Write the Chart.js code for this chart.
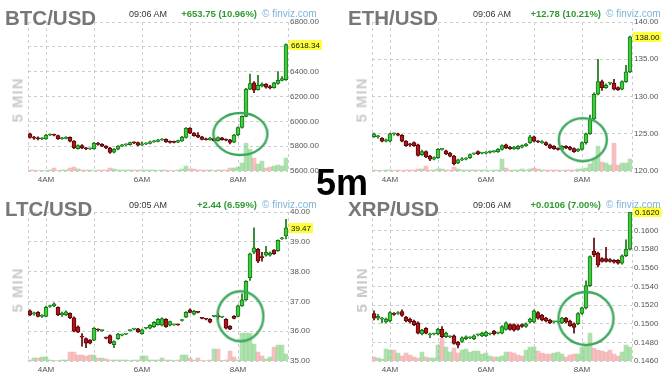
<!DOCTYPE html>
<html>
<head>
<meta charset="utf-8">
<title>Crypto 5 min</title>
<script src="https://cdn.jsdelivr.net/npm/chart.js@4/dist/chart.umd.min.js"></script>
<style>
  html, body { margin: 0; padding: 0; background: #fff; }
  body { width: 669px; height: 389px; position: relative; overflow: hidden; font-family: "Liberation Sans", Arial, sans-serif; }
  .panel { position: absolute; width: 344px; height: 190px; }
  .panel canvas { position: absolute; left: 0; top: 0; }
  .txt { position: absolute; white-space: nowrap; line-height: 1; }
  .name { font-weight: bold; font-size: 20.5px; color: #777; }
  .time { font-size: 9px; color: #333; }
  .chg { font-weight: bold; font-size: 9.5px; color: #2f9a33; }
  .brand { font-size: 10px; color: #7fb3d8; }
  .side { font-weight: bold; font-size: 15px; color: #cacaca; letter-spacing: 1px; transform: translate(-50%, -50%) rotate(-90deg); }
  #tf { position: absolute; left: 316px; top: 165px; font-weight: bold; font-size: 36px; line-height: 1; color: #000; z-index: 5; }
</style>
</head>
<body>
<div id="tf">5m</div>
<script>
// candle times (5 minute bars)
const times = ['3:40','3:45','3:50','3:55',
  '4:00','4:05','4:10','4:15','4:20','4:25','4:30','4:35','4:40','4:45','4:50','4:55',
  '5:00','5:05','5:10','5:15','5:20','5:25','5:30','5:35','5:40','5:45','5:50','5:55',
  '6:00','6:05','6:10','6:15','6:20','6:25','6:30','6:35','6:40','6:45','6:50','6:55',
  '7:00','7:05','7:10','7:15','7:20','7:25','7:30','7:35','7:40','7:45','7:50','7:55',
  '8:00','8:05','8:10','8:15','8:20','8:25','8:30','8:35','8:40','8:45','8:50','8:55',
  '9:00']
const hourTicks = ['4:00','5:00','6:00','7:00','8:00']
const hourLabels = ['4AM','','6AM','','8AM']

// BTC/USD
const btcOpen = [5900,5870,5868,5860,5858,5890,5893,5885,5860,5862,
  5872,5840,5780,5805,5785,5778,5780,5825,5815,5800,
  5785,5752,5775,5800,5810,5812,5828,5828,5810,5818,
  5822,5835,5838,5850,5855,5838,5832,5832,5842,5870,
  5945,5905,5890,5875,5860,5852,5862,5845,5868,5855,
  5852,5832,5890,5950,6040,6260,6310,6255,6285,6300,
  6280,6272,6305,6330,6335]
const btcClose = [5870,5865,5858,5862,5890,5895,5888,5860,5865,5872,
  5840,5785,5805,5785,5778,5780,5825,5815,5800,5785,
  5750,5775,5800,5810,5812,5828,5826,5808,5818,5822,
  5835,5842,5852,5858,5835,5830,5830,5845,5874,5945,
  5905,5885,5872,5855,5852,5866,5845,5870,5852,5848,
  5830,5890,5950,6040,6260,6305,6250,6290,6300,6275,
  6270,6310,6330,6345,6618.34]
const btcHigh = [5905,5880,5875,5870,5895,5900,5898,5890,5872,5878,
  5875,5845,5810,5812,5790,5785,5830,5830,5820,5805,
  5790,5780,5805,5815,5818,5832,5835,5832,5835,5826,
  5840,5848,5856,5862,5860,5842,5840,5850,5880,5950,
  5950,5910,5910,5880,5865,5872,5868,5875,5872,5860,
  5856,5895,5955,6045,6265,6380,6320,6370,6310,6305,
  6290,6315,6400,6360,6625]
const btcLow = [5865,5855,5850,5852,5855,5885,5882,5855,5855,5858,
  5835,5780,5775,5780,5772,5772,5775,5808,5795,5780,
  5742,5745,5770,5795,5805,5808,5820,5802,5805,5812,
  5818,5830,5834,5846,5830,5825,5826,5828,5838,5865,
  5900,5880,5868,5850,5848,5848,5840,5840,5848,5842,
  5818,5828,5885,5945,6035,6255,6230,6250,6278,6268,
  6262,6268,6300,6325,6330]
const btcVolume = [1,1,0.5,0.5,0.5,1,3,0.5,1,1,
  3,4,2,1,1,1,0.5,1,1,1,
  3,2,1,1,1,1,1,1,1,1,
  1,1,0.5,1,1,0.5,0.5,1,2,5,
  2,2,1,1,1,1,0.5,1,1,1,
  3,3,4,8,28,22,13,7,10,3,
  4,5,6,5,13]
const btcTicks = [5600,5800,6000,6200,6400,6600,6800]
const btcCircle = ['8:03', 5898]

// ETH/USD
const ethOpen = [124.6,124.6,124.4,124.0,124.0,125.0,125.0,124.8,124.0,123.6,
  123.8,123.5,122.2,122.6,122.0,121.6,121.8,122.9,122.7,122.4,
  122.0,121.1,121.5,121.6,121.8,122.3,122.6,122.4,122.4,122.5,
  122.6,122.6,122.9,123.5,123.2,123.0,123.0,123.2,123.4,123.8,
  124.6,124.0,123.8,123.8,123.5,123.3,123.0,122.9,123.3,123.2,
  123.0,122.7,122.9,123.8,125.0,127.0,130.3,132.0,131.2,131.8,
  131.8,131.2,131.0,132.0,133.3]
const ethClose = [125.0,124.6,124.0,124.2,125.0,125.0,124.8,124.0,123.4,123.5,
  123.4,122.1,122.6,121.9,121.6,121.8,122.9,122.9,122.3,122.0,
  121.0,121.5,121.6,121.7,122.2,122.3,122.3,122.4,122.5,122.6,
  122.6,122.9,123.4,123.1,123.0,123.2,123.3,123.4,123.6,124.6,
  124.0,123.9,123.9,123.5,123.1,123.0,122.9,123.3,123.1,122.9,
  122.6,122.9,123.8,125.0,127.0,130.3,132.0,131.2,131.5,131.8,
  131.0,130.9,132.0,133.3,138.0]
const ethHigh = [125.1,124.8,124.5,124.3,125.1,125.1,125.1,124.9,124.1,123.7,
  123.9,123.6,122.8,122.7,122.1,121.9,123.0,123.0,122.8,122.5,
  122.1,121.6,121.8,121.8,122.3,122.4,122.7,122.5,122.6,122.7,
  122.7,123.0,123.5,123.6,123.3,123.3,123.4,123.5,123.7,124.8,
  124.7,124.1,124.1,123.9,123.6,123.4,123.1,123.4,123.4,123.3,
  123.1,123.0,123.9,125.1,127.5,130.5,135.0,132.2,131.7,131.9,
  132.3,131.3,132.1,134.2,138.1]
const ethLow = [124.5,124.4,123.9,123.9,123.9,124.8,124.7,123.9,123.3,123.3,
  123.3,122.0,122.1,121.8,121.4,121.5,121.7,122.8,122.2,121.9,
  120.8,121.0,121.4,121.5,121.7,122.2,122.2,122.3,122.3,122.4,
  122.5,122.5,122.8,123.0,122.9,122.9,122.9,123.1,123.3,123.7,
  123.9,123.8,123.7,123.4,123.0,122.9,122.8,122.8,123.0,122.8,
  122.5,122.6,122.8,123.6,124.9,126.9,130.2,130.8,131.1,131.6,
  130.9,130.8,130.9,131.9,133.2]
const ethVolume = [1,0.5,0.5,1,1,0.5,1,0.5,1,1,
  1,2,2,5,1,1,2,2,1,1,
  4,2,1,1,1,1,1,1,1,0.5,
  1,1,12,3,1,1,1,2,1,2,
  3,2,1,1,1,1,1,0.5,1,1,
  1,2,2,3,7,12,25,9,8,6,
  28,6,8,8,12]
const ethTicks = [120,125,130,135,140]
const ethCircle = ['8:01', 124.2]

// LTC/USD
const ltcOpen = [36.68,36.58,36.63,36.50,36.50,36.83,36.85,36.80,36.55,36.55,
  36.60,36.45,36.15,35.82,35.75,35.70,35.70,36.05,36.02,35.78,
  35.85,35.55,35.75,35.87,35.90,36.02,36.07,36.08,35.92,36.10,
  36.10,36.15,36.22,36.20,36.40,36.20,36.21,36.22,36.36,36.47,
  36.72,36.57,36.64,36.44,36.41,36.40,36.50,36.50,36.47,36.40,
  36.17,36.50,36.50,36.85,37.05,37.80,38.65,38.75,38.50,38.55,
  38.55,38.72,38.70,39.10,39.20]
const ltcClose = [36.55,36.60,36.50,36.52,36.80,36.85,36.92,36.55,36.60,36.65,
  36.45,36.00,35.97,35.80,35.60,35.60,36.10,36.04,36.02,35.77,
  35.60,35.65,35.90,35.88,35.91,36.03,36.08,35.98,36.05,36.11,
  36.20,36.30,36.40,36.42,36.15,36.32,36.22,36.21,36.38,36.63,
  36.63,36.67,36.63,36.43,36.40,36.30,36.51,36.49,36.48,36.10,
  36.07,36.43,36.85,37.05,37.67,38.60,38.80,38.35,38.47,38.65,
  38.62,38.60,39.05,39.12,39.47]
const ltcHigh = [36.72,36.64,36.66,36.56,36.84,36.88,36.95,36.82,36.64,36.68,
  36.62,36.48,36.18,35.92,35.78,35.72,36.12,36.08,36.05,35.80,
  35.88,35.68,35.93,35.90,35.93,36.05,36.10,36.10,36.07,36.13,
  36.22,36.32,36.42,36.45,36.42,36.34,36.24,36.24,36.40,36.66,
  36.75,36.70,36.66,36.46,36.43,36.42,36.53,36.60,36.50,36.42,
  36.19,36.52,36.88,37.25,37.70,38.62,39.47,38.78,38.65,38.85,
  38.66,38.74,39.07,39.15,39.75]
const ltcLow = [36.52,36.54,36.48,36.46,36.48,36.80,36.82,36.52,36.50,36.52,
  36.42,35.98,35.95,35.50,35.45,35.57,35.68,36.00,35.99,35.74,
  35.58,35.45,35.72,35.84,35.88,36.00,36.04,35.96,35.90,36.08,
  36.08,36.13,36.20,36.18,36.13,36.18,36.19,36.19,36.34,36.45,
  36.61,36.55,36.61,36.41,36.38,36.28,36.48,36.40,36.45,36.08,
  36.05,36.41,36.48,36.83,37.03,37.70,38.60,38.30,38.35,38.52,
  38.52,38.58,38.68,39.08,39.10]
const ltcVolume = [1,3,3,4,4,1,0.5,0.5,1,1,
  9,9,6,6,5,6,6,3,3,2,
  1,1,1,1,1,0.5,1,1,5,5,
  1,1,1,3,1,1,0.5,1,6,6,
  3,1,3,0.5,0.5,1,12,12,0.5,1,
  10,4,1,28,28,28,17,9,5,2,
  4,14,16,16,7]
const ltcTicks = [35,36,37,38,39,40]
const ltcCircle = ['8:03', 36.5]

// XRP/USD
const xrpOpen = [0.1511,0.1506,0.1505,0.1502,0.1503,0.1511,0.1511,0.1513,0.1507,0.1505,
  0.1503,0.1501,0.1489,0.1495,0.1488,0.1489,0.1489,0.1494,0.1486,0.1486,
  0.1487,0.1480,0.1481,0.1484,0.1485,0.1484,0.1488,0.1487,0.1487,0.1489,
  0.1492,0.1490,0.1490,0.1494,0.1499,0.1499,0.1498,0.1499,0.1497,0.1502,
  0.1502,0.1512,0.1509,0.1506,0.1504,0.1502,0.1502,0.1501,0.1506,0.1503,
  0.1500,0.1500,0.1511,0.1517,0.1541,0.1578,0.1576,0.1570,0.1570,0.1569,
  0.1568,0.1568,0.1565,0.1573,0.1580]
const xrpClose = [0.1506,0.1508,0.1505,0.1505,0.1512,0.1510,0.1511,0.1509,0.1503,0.1502,
  0.1499,0.1490,0.1493,0.1490,0.1488,0.1489,0.1494,0.1486,0.1490,0.1486,
  0.1479,0.1477,0.1485,0.1486,0.1485,0.1487,0.1488,0.1490,0.1491,0.1489,
  0.1489,0.1490,0.1497,0.1501,0.1494,0.1493,0.1494,0.1497,0.1500,0.1505,
  0.1514,0.1506,0.1504,0.1503,0.1501,0.1502,0.1502,0.1506,0.1502,0.1498,
  0.1496,0.1511,0.1517,0.1541,0.1572,0.1574,0.1563,0.1567,0.1567,0.1567,
  0.1566,0.1565,0.1573,0.1580,0.1620]
const xrpHigh = [0.1514,0.1510,0.1507,0.1506,0.1513,0.1512,0.1513,0.1515,0.1508,0.1506,
  0.1504,0.1502,0.1494,0.1496,0.1490,0.1490,0.1495,0.1497,0.1491,0.1487,
  0.1488,0.1481,0.1486,0.1487,0.1486,0.1488,0.1489,0.1491,0.1492,0.1490,
  0.1493,0.1491,0.1498,0.1502,0.1500,0.1500,0.1499,0.1500,0.1501,0.1506,
  0.1515,0.1513,0.1510,0.1507,0.1505,0.1503,0.1503,0.1507,0.1507,0.1504,
  0.1501,0.1512,0.1518,0.1546,0.1573,0.1592,0.1577,0.1571,0.1582,0.1570,
  0.1569,0.1569,0.1574,0.1590,0.1621]
const xrpLow = [0.1504,0.1504,0.1501,0.1501,0.1502,0.1509,0.1510,0.1508,0.1502,0.1501,
  0.1498,0.1489,0.1488,0.1489,0.1485,0.1488,0.1488,0.1485,0.1485,0.1485,
  0.1478,0.1474,0.1480,0.1483,0.1484,0.1483,0.1487,0.1486,0.1486,0.1488,
  0.1488,0.1489,0.1489,0.1493,0.1493,0.1492,0.1493,0.1496,0.1496,0.1501,
  0.1501,0.1505,0.1503,0.1502,0.1500,0.1501,0.1501,0.1500,0.1501,0.1497,
  0.1490,0.1499,0.1510,0.1516,0.1540,0.1572,0.1561,0.1566,0.1566,0.1566,
  0.1565,0.1564,0.1564,0.1572,0.1579]
const xrpVolume = [4,3,2,12,11,11,8,5,8,6,
  4,3,9,4,3,3,16,23,14,9,
  13,8,11,12,9,10,10,7,8,5,
  4,4,5,9,9,8,6,5,11,14,
  14,10,8,7,7,8,9,7,4,6,
  7,7,14,16,28,13,11,10,9,11,
  7,5,9,16,14]
const xrpTicks = [0.146,0.148,0.150,0.152,0.154,0.156,0.158,0.160,0.162]
const xrpCircle = ['8:05', 0.15056]


const FONT = '"Liberation Sans", Arial, sans-serif'
const UP_FILL = '#3fcd3f', UP_LINE = '#177417'
const DOWN_FILL = '#b3141c', DOWN_LINE = '#560707'
const VOL_UP = 'rgba(120, 205, 120, 0.6)', VOL_DOWN = 'rgba(240, 150, 150, 0.6)'
const GRID = '#cdcdcd'
const RING = '#3ca85c'
const X_MIN = 217.5, X_MAX = 542.5

Chart.defaults.font.family = FONT

function toMinutes(s) {
    const parts = s.split(':').map(Number)
    return parts[0] * 60 + parts[1]
}

function ringImage(rx, ry) {
    const c = document.createElement('canvas')
    c.width = Math.ceil(rx * 2 + 4)
    c.height = Math.ceil(ry * 2 + 4)
    const g = c.getContext('2d')
    g.strokeStyle = RING
    g.lineWidth = 2.4
    g.beginPath()
    g.ellipse(c.width / 2, c.height / 2, rx, ry, 0, 0, Math.PI * 2)
    g.stroke()
    return c
}

// yellow box with the last price, over the right axis
const lastPricePlugin = {
    id: 'lastPrice',
    afterDraw(chart, args, opts) {
        const ctx = chart.ctx
        const area = chart.chartArea
        const py = Math.round(chart.scales.y.getPixelForValue(opts.value))
        const text = opts.value.toFixed(opts.digits)
        ctx.save()
        ctx.font = '8px ' + FONT
        const w = ctx.measureText(text).width + 4
        ctx.fillStyle = '#ffff3c'
        ctx.fillRect(area.right + 1, py - 5, w, 10)
        ctx.fillStyle = '#111'
        ctx.textBaseline = 'middle'
        ctx.fillText(text, area.right + 3, py + 0.5)
        ctx.restore()
    }
}

const panels = [
    {sym: 'BTC/USD', time: '09:06 AM', change: '+653.75 (10.96%)',
     open: btcOpen, high: btcHigh, low: btcLow, close: btcClose, volume: btcVolume,
     ticks: btcTicks, digits: 2, circle: btcCircle, ring: [27, 21],
     left: 0, top: 0, head: 0, nameX: 5},
    {sym: 'ETH/USD', time: '09:06 AM', change: '+12.78 (10.21%)',
     open: ethOpen, high: ethHigh, low: ethLow, close: ethClose, volume: ethVolume,
     ticks: ethTicks, digits: 2, circle: ethCircle, ring: [24, 21.5],
     left: 344, top: 0, head: 0, nameX: 4},
    {sym: 'LTC/USD', time: '09:05 AM', change: '+2.44 (6.59%)',
     open: ltcOpen, high: ltcHigh, low: ltcLow, close: ltcClose, volume: ltcVolume,
     ticks: ltcTicks, digits: 2, circle: ltcCircle, ring: [23, 25],
     left: 0, top: 190, head: 1.7, nameX: 5},
    {sym: 'XRP/USD', time: '09:06 AM', change: '+0.0106 (7.00%)',
     open: xrpOpen, high: xrpHigh, low: xrpLow, close: xrpClose, volume: xrpVolume,
     ticks: xrpTicks, digits: 4, circle: xrpCircle, ring: [27.5, 26.5],
     left: 344, top: 190, head: 1.7, nameX: 4}
]

function addText(parent, cls, text, x, baseline, size) {
    const d = document.createElement('div')
    d.className = 'txt ' + cls
    d.textContent = text
    d.style.top = (baseline - 0.8465 * size) + 'px'
    if (x < 0) d.style.right = (-x) + 'px'
    else d.style.left = x + 'px'
    parent.appendChild(d)
    return d
}

panels.forEach(p => {
    const div = document.createElement('div')
    div.className = 'panel'
    div.style.left = p.left + 'px'
    div.style.top = p.top + 'px'
    document.body.appendChild(div)

    const canvas = document.createElement('canvas')
    canvas.width = 344
    canvas.height = 190
    div.appendChild(canvas)

    addText(div, 'name', p.sym, p.nameX, 25 + p.head, 20.5)
    addText(div, 'time', p.time, 129, 17.3 + p.head, 9)
    addText(div, 'chg', p.change, -(344 - 257), 16.8 + p.head, 9.5)
    addText(div, 'brand', '\u00a9 finviz.com', 262, 17 + p.head, 10)
    const side = document.createElement('div')
    side.className = 'txt side'
    side.textContent = '5 MIN'
    side.style.left = '17px'
    side.style.top = (99.5 + p.head * 0.5) + 'px'
    div.appendChild(side)

    const xs = times.map(toMinutes)
    const up = p.close.map((c, i) => c >= p.open[i])
    const bodies = xs.map((t, i) => ({x: t, y: [p.open[i], p.close[i]]}))
    const wicks = xs.map((t, i) => ({x: t, y: [p.low[i], p.high[i]]}))
    const vols = xs.map((t, i) => ({x: t, y: p.volume[i]}))

    const xTickValues = [X_MIN].concat(hourTicks.map(toMinutes), [X_MAX])
    const xTickText = [''].concat(hourLabels, [''])

    new Chart(canvas, {
        type: 'bar',
        data: {
            datasets: [
                {
                    type: 'line',
                    data: [{x: toMinutes(p.circle[0]), y: p.circle[1]}],
                    showLine: false,
                    pointStyle: ringImage(p.ring[0], p.ring[1]),
                    pointRadius: 4,
                    yAxisID: 'y',
                    order: 0
                },
                {
                    data: bodies,
                    backgroundColor: up.map(u => u ? UP_FILL : DOWN_FILL),
                    borderColor: up.map(u => u ? UP_LINE : DOWN_LINE),
                    borderWidth: 1,
                    borderSkipped: false,
                    barThickness: 4,
                    minBarLength: 1,
                    grouped: false,
                    yAxisID: 'y',
                    order: 1
                },
                {
                    data: wicks,
                    backgroundColor: up.map(u => u ? UP_LINE : DOWN_LINE),
                    borderWidth: 0,
                    barThickness: 1,
                    grouped: false,
                    yAxisID: 'y',
                    order: 2
                },
                {
                    data: vols,
                    backgroundColor: up.map(u => u ? VOL_UP : VOL_DOWN),
                    borderWidth: 0,
                    barThickness: 4,
                    grouped: false,
                    yAxisID: 'v',
                    order: 3
                }
            ]
        },
        options: {
            responsive: false,
            animation: false,
            events: [],
            layout: {padding: {left: 28, top: 22, right: 0, bottom: 0}},
            plugins: {
                legend: {display: false},
                tooltip: {enabled: false},
                lastPrice: {value: p.close[p.close.length - 1], digits: p.digits}
            },
            scales: {
                x: {
                    type: 'linear',
                    min: X_MIN,
                    max: X_MAX,
                    offset: false,
                    grid: {color: GRID, drawTicks: false, offset: false},
                    border: {display: false, dash: [3, 3]},
                    afterBuildTicks: s => { s.ticks = xTickValues.map(v => ({value: v})) },
                    afterFit: s => { s.height = 19 },
                    ticks: {
                        autoSkip: false, maxRotation: 0, padding: 4,
                        color: '#555', font: {size: 8},
                        callback: (v, i) => xTickText[i]
                    }
                },
                y: {
                    position: 'right',
                    min: p.ticks[0],
                    max: p.ticks[p.ticks.length - 1],
                    grid: {color: GRID, drawTicks: false},
                    border: {display: false, dash: [3, 3]},
                    afterBuildTicks: s => { s.ticks = p.ticks.map(v => ({value: v})) },
                    afterFit: s => { s.width = 56 },
                    ticks: {
                        padding: 2, color: '#555', font: {size: 8},
                        callback: v => Number(v).toFixed(p.digits)
                    }
                },
                v: {
                    axis: 'y',
                    position: 'left',
                    display: false,
                    min: 0,
                    max: 150
                }
            }
        },
        plugins: [lastPricePlugin]
    })
})
</script>
</body>
</html>
